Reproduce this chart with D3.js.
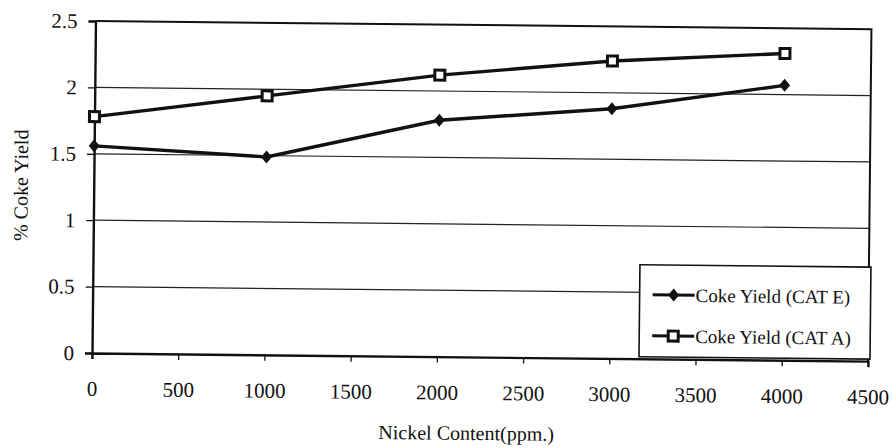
<!DOCTYPE html>
<html>
<head>
<meta charset="utf-8">
<script src="https://cdn.jsdelivr.net/npm/d3@7"></script>
<style>
  body { margin: 0; background: #fff; }
  svg text { font-family: "Liberation Serif", "Times New Roman", serif; fill: #111; }
</style>
</head>
<body>
<div id="chart"></div>
<script>
// data
var nickelPpm = [0, 1000, 2000, 3000, 4000];
var cokeCatE = [1.56, 1.49, 1.78, 1.88, 2.07];
var cokeCatA = [1.78, 1.95, 2.12, 2.24, 2.31];
var seriesNames = ["Coke Yield (CAT E)", "Coke Yield (CAT A)"];
var xTicks = [0, 500, 1000, 1500, 2000, 2500, 3000, 3500, 4000, 4500];
var yTicks = [0, 0.5, 1, 1.5, 2, 2.5];

var svgWidth = 893, svgHeight = 448;
var margin = { top: 21, left: 92 };
var width = 776, height = 332;
// the scan is slightly tilted
var tilt = 0.6;

var svg = d3.select("#chart")
    .append("svg")
    .attr("width", svgWidth)
    .attr("height", svgHeight);

var chartGroup = svg.append("g")
    .attr("transform", `translate(${margin.left}, ${margin.top + height}) rotate(${tilt}) translate(0, ${-height})`);

var xScale = d3.scaleLinear().domain([0, 4500]).range([0, width]);
var yScale = d3.scaleLinear().domain([0, 2.5]).range([height, 0]);

// gridlines
chartGroup.append("g")
    .selectAll("line")
    .data(yTicks.filter(d => d > 0 && d < 2.5))
    .enter()
    .append("line")
    .attr("x1", 0)
    .attr("x2", width)
    .attr("y1", d => yScale(d))
    .attr("y2", d => yScale(d))
    .attr("stroke", "#222")
    .attr("stroke-width", 1.2);

// plot frame (top + right)
chartGroup.append("path")
    .attr("d", `M0,0H${width}V${height}`)
    .attr("fill", "none")
    .attr("stroke", "#111")
    .attr("stroke-width", 2);

// axes
var xAxis = d3.axisBottom(xScale).tickValues(xTicks).tickSize(6).tickPadding(22).tickFormat(d3.format("d"));
var yAxis = d3.axisLeft(yScale).tickValues(yTicks).tickSize(7).tickPadding(11).tickFormat(d => String(d));

var gx = chartGroup.append("g")
    .attr("transform", `translate(0, ${height})`)
    .call(xAxis);
var gy = chartGroup.append("g")
    .call(yAxis);

[gx, gy].forEach(function(g) {
    g.select(".domain").attr("stroke", "#111").attr("stroke-width", 2.4);
    g.selectAll(".tick line").attr("stroke", "#111").attr("stroke-width", 1.3);
    g.selectAll("text")
        .style("font-family", "'Liberation Serif', 'Times New Roman', serif")
        .style("font-size", "21px")
        .attr("fill", "#111");
});

// axis titles
chartGroup.append("text")
    .attr("x", 375)
    .attr("y", height + 76)
    .attr("dy", "0.35em")
    .attr("text-anchor", "middle")
    .style("font-size", "20px")
    .text("Nickel Content(ppm.)");

chartGroup.append("text")
    .attr("transform", `translate(-73, ${height - 167}) rotate(-90)`)
    .attr("dy", "0.35em")
    .attr("text-anchor", "middle")
    .style("font-size", "20px")
    .text("% Coke Yield");

// lines
var line = d3.line()
    .x(d => xScale(d[0]))
    .y(d => yScale(d[1]));

var seriesE = nickelPpm.map((x, i) => [x, cokeCatE[i]]);
var seriesA = nickelPpm.map((x, i) => [x, cokeCatA[i]]);

[seriesE, seriesA].forEach(function(s) {
    chartGroup.append("path")
        .datum(s)
        .attr("d", line)
        .attr("fill", "none")
        .attr("stroke", "#111")
        .attr("stroke-width", 3.4);
});

var diamond = "M0,-6.5L5.5,0L0,6.5L-5.5,0Z";

function drawDiamond(g, x, y) {
    g.append("path")
        .attr("d", diamond)
        .attr("transform", `translate(${x}, ${y})`)
        .attr("fill", "#111");
}

function drawSquare(g, x, y) {
    g.append("rect")
        .attr("x", x - 5)
        .attr("y", y - 5)
        .attr("width", 10)
        .attr("height", 10)
        .attr("fill", "#fff")
        .attr("stroke", "#111")
        .attr("stroke-width", 3);
}

seriesE.forEach(d => drawDiamond(chartGroup, xScale(d[0]), yScale(d[1])));
seriesA.forEach(d => drawSquare(chartGroup, xScale(d[0]), yScale(d[1])));

// legend
var legend = chartGroup.append("g").attr("transform", "translate(547, 238)");
legend.append("rect")
    .attr("width", 231)
    .attr("height", 92)
    .attr("fill", "#fff")
    .attr("stroke", "#111")
    .attr("stroke-width", 1.6);

var rows = [30, 71];
seriesNames.forEach(function(name, i) {
    var y = rows[i];
    legend.append("line")
        .attr("x1", 13).attr("x2", 55)
        .attr("y1", y).attr("y2", y)
        .attr("stroke", "#111")
        .attr("stroke-width", 3);
    if (i === 0) drawDiamond(legend, 34, y);
    else drawSquare(legend, 34, y);
    legend.append("text")
        .attr("x", 56)
        .attr("y", y)
        .attr("dy", "0.35em")
        .style("font-size", "19px")
        .text(name);
});
</script>
</body>
</html>
